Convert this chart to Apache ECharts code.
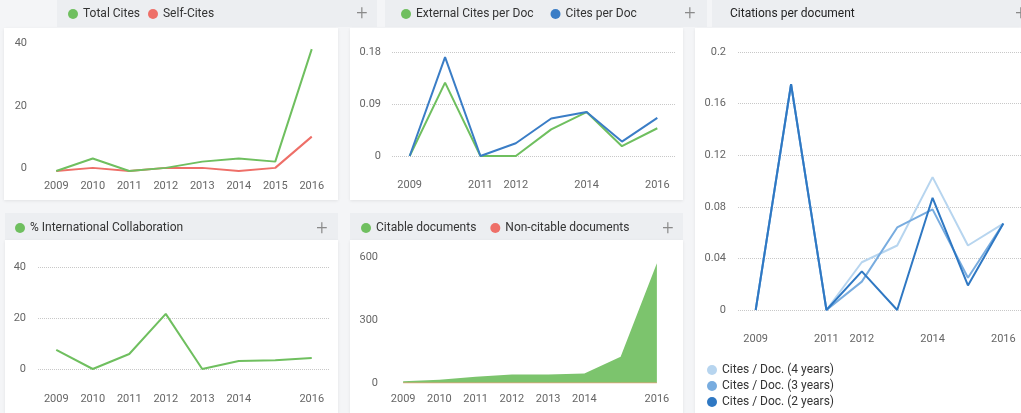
<!DOCTYPE html>
<html>
<head>
<meta charset="utf-8">
<script src="https://cdn.jsdelivr.net/npm/echarts@6/dist/echarts.min.js"></script>
<style>
html,body{margin:0;padding:0;background:#f4f5f7;}
#main{width:1021px;height:413px;}
</style>
</head>
<body>
<div id="main"></div>
<script>
// ---- data ----
const years = ['2009','2010','2011','2012','2013','2014','2015','2016'];
const totalCites = [0, 4, 0, 1, 3, 4, 3, 39];
const selfCites = [0, 1, 0, 1, 1, 0, 1, 11];
const externalCitesPerDoc = [0, 0.127, 0, 0, 0.046, 0.076, 0.017, 0.048];
const citesPerDoc = [0, 0.171, 0, 0.022, 0.065, 0.076, 0.025, 0.066];
const citesDoc4y = [0, 0.175, 0, 0.037, 0.050, 0.103, 0.050, 0.067];
const citesDoc3y = [0, 0.175, 0, 0.022, 0.064, 0.078, 0.025, 0.067];
const citesDoc2y = [0, 0.175, 0, 0.030, 0, 0.087, 0.019, 0.067];
const intlCollab = [7.5, 0, 5.9, 21.6, 0, 3.1, 3.4, 4.3];
const citableDocs = [8, 16, 30, 40, 40, 45, 125, 570];
const nonCitableDocs = [0, 0, 0, 0, 0, 0, 0, 0];

const GREEN = '#6fbf5f', RED = '#ee6f68', BLUE = '#3a7dc6';
const C4 = '#b7d5ef', C3 = '#78acdf', C2 = '#2f78c3';
const FONT = 'Roboto';
const HEADER = '#eceef1';

const showAll = () => true;
const showSparse = (i) => [0,2,3,5,7].indexOf(i) >= 0;
const showNo2015 = (i) => i !== 6;

function xAx(gi, intervalFn, margin) {
  return {
    type: 'category', gridIndex: gi, data: years, boundaryGap: true,
    axisLine: {show: false}, axisTick: {show: false},
    axisLabel: {color: '#666', fontFamily: FONT, fontSize: 11, margin: margin, interval: intervalFn}
  };
}
function yAx(gi, max, interval, split, margin, lift) {
  const lbl = {color: '#666', fontFamily: FONT, fontSize: 11, margin: margin};
  if (lift) { lbl.verticalAlign = 'bottom'; lbl.lineHeight = lift; }
  return {
    type: 'value', gridIndex: gi, min: 0, max: max, interval: interval,
    axisLine: {show: false}, axisTick: {show: false},
    splitLine: {show: split, lineStyle: {type: 'dotted', color: '#c8c8c8', width: 1}},
    axisLabel: lbl
  };
}
function line(name, xi, data, color, z) {
  return {
    name: name, type: 'line', xAxisIndex: xi, yAxisIndex: xi, data: data,
    showSymbol: false, symbol: 'none', lineStyle: {width: 2, color: color}, itemStyle: {color: color},
    z: z || 2, animation: false
  };
}
const legendText = {color: '#333', fontFamily: FONT, fontSize: 12};
function legend(names, left, top, gap, extra) {
  return Object.assign({
    data: names, left: left, top: top, icon: 'circle', itemWidth: 10, itemHeight: 10, padding: 0,
    itemGap: gap, textStyle: legendText, selectedMode: false
  }, extra || {});
}
function rect(x, y, w, h, fill, shadow) {
  const r = {type: 'rect', shape: {x: x, y: y, width: w, height: h}, style: {fill: fill}, z: -10, silent: true};
  if (shadow) { r.style.shadowBlur = 3; r.style.shadowColor = 'rgba(0,0,0,0.08)'; r.style.shadowOffsetY = 1; }
  return r;
}
function plus(x, y) {
  return {type: 'text', x: x, y: y, style: {text: '+', fill: '#8a8a8a', font: '300 20px ' + FONT, align: 'center', verticalAlign: 'middle'}, z: 5, silent: true};
}

const chart = echarts.init(document.getElementById('main'), null, {renderer: 'canvas'});
chart.setOption({
  animation: false,
  backgroundColor: '#f4f5f7',
  graphic: [
    rect(57, 0, 320, 27, HEADER),
    rect(385, 0, 322, 27, HEADER),
    rect(712, 0, 309, 27, HEADER),
    rect(4, 28, 334, 172, '#ffffff', true),
    rect(350, 28, 333, 172, '#ffffff', true),
    rect(695, 28, 326, 385, '#ffffff', true),
    rect(5, 213, 333, 27, HEADER),
    rect(350, 213, 333, 27, HEADER),
    rect(5, 240, 333, 173, '#ffffff', true),
    rect(350, 240, 333, 173, '#ffffff', true),
    plus(362, 14), plus(690, 14), plus(1021, 14), plus(322, 229), plus(668, 229)
  ],
  title: {
    text: 'Citations per document', left: 730, top: 8, padding: 0,
    textStyle: {color: '#222', fontFamily: FONT, fontSize: 12, fontWeight: 'normal'}
  },
  legend: [
    legend(['Total Cites', 'Self-Cites'], 68, 8, 8),
    legend(['External Cites per Doc', 'Cites per Doc'], 401, 8, 17),
    legend(['Cites / Doc. (4 years)', 'Cites / Doc. (3 years)', 'Cites / Doc. (2 years)'], 707, 364, 4,
      {orient: 'vertical', textStyle: Object.assign({}, legendText, {lineHeight: 12})}),
    legend(['% International Collaboration'], 15, 222, 10),
    legend(['Citable documents', 'Non-citable documents'], 361, 222, 14)
  ],
  grid: [
    {left: 38, top: 46, width: 292, height: 125},
    {left: 392, top: 52, width: 283, height: 104},
    {left: 738, top: 52, width: 283, height: 258},
    {left: 38, top: 267, width: 292, height: 102},
    {left: 385, top: 257, width: 290, height: 126}
  ],
  xAxis: [
    xAx(0, showAll, 10),
    xAx(1, showSparse, 24),
    xAx(2, showSparse, 24),
    xAx(3, showNo2015, 25),
    xAx(4, showNo2015, 11)
  ],
  yAxis: [
    yAx(0, 40, 20, false, 11, 5),
    yAx(1, 0.18, 0.09, true, 11),
    yAx(2, 0.2, 0.04, true, 12),
    yAx(3, 40, 20, true, 12),
    yAx(4, 600, 300, false, 7)
  ],
  series: [
    line('Self-Cites', 0, selfCites, RED, 2),
    line('Total Cites', 0, totalCites, GREEN, 3),
    line('External Cites per Doc', 1, externalCitesPerDoc, GREEN, 2),
    line('Cites per Doc', 1, citesPerDoc, BLUE, 3),
    line('Cites / Doc. (4 years)', 2, citesDoc4y, C4, 2),
    line('Cites / Doc. (3 years)', 2, citesDoc3y, C3, 3),
    line('Cites / Doc. (2 years)', 2, citesDoc2y, C2, 4),
    line('% International Collaboration', 3, intlCollab, GREEN, 2),
    Object.assign(line('Citable documents', 4, citableDocs, '#7cc46d', 2), {
      lineStyle: {width: 0, color: '#7cc46d'}, areaStyle: {color: '#7cc46d', opacity: 1}, itemStyle: {color: GREEN}
    }),
    Object.assign(line('Non-citable documents', 4, nonCitableDocs, RED, 3), {lineStyle: {width: 1, color: '#e9a07a'}})
  ]
});
</script>
</body>
</html>
